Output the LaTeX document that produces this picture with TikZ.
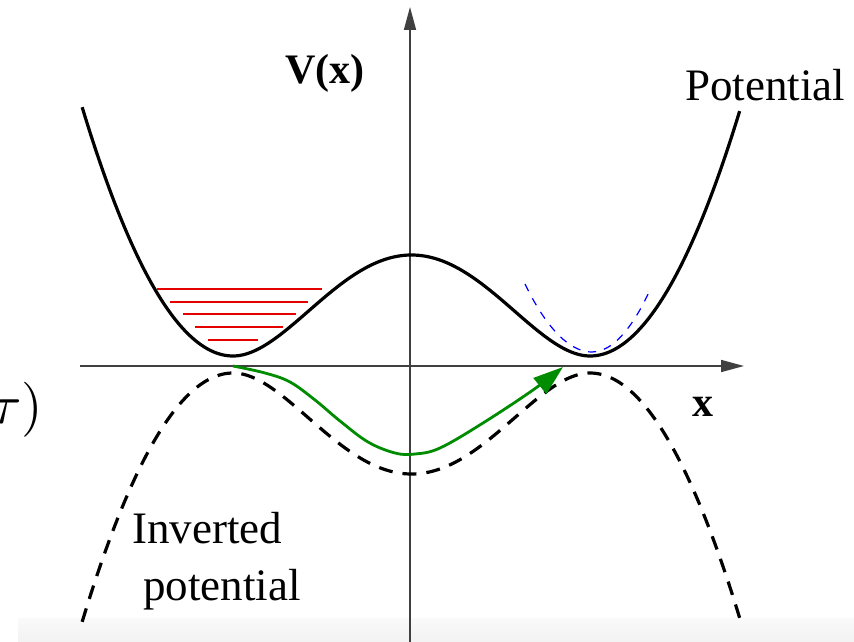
\documentclass[tikz,border=0pt]{standalone}
\usepackage[no-math]{fontspec}
\setmainfont{Liberation Serif}
\usetikzlibrary{arrows.meta}
\begin{document}
\begin{tikzpicture}[x=1pt,y=-1pt,
  axis/.style={line width=1.7pt, black!75, -{Triangle[length=23pt,width=12pt]}},
  pot/.style={line width=3.2pt, black},
  invpot/.style={line width=3.2pt, black, dash pattern=on 14pt off 10pt},
  level/.style={line width=2.8pt, red!90!black},
  harm/.style={line width=1.2pt, blue, dash pattern=on 8pt off 8pt},
  tunnel/.style={line width=2.8pt, green!55!black, -{Triangle[length=30pt,width=20pt]}},
  lbl/.style={font=\fontsize{45}{54}\selectfont, inner sep=0pt},
  blbl/.style={font=\bfseries\fontsize{42}{50}\selectfont, inner sep=0pt},
  declare function={g(\u)=(abs(\u)<1) ? ((\u*\u-1)*(\u*\u-1)) : (3.45*(abs(\u)-1)*(abs(\u)-1));}
]
\useasboundingbox (0,0) rectangle (854,642);
\fill[white] (0,0) rectangle (854,642);
\shade[top color=black!2, bottom color=black!5] (18,618) rectangle (854,642);

% axes
\coordinate (xs) at (80,366);
\coordinate (xe) at (744,366);
\coordinate (ys) at (410,642);
\coordinate (ye) at (410,7);
\draw[axis] (xs) -- (xe);
\draw[axis] (ys) -- (ye);

% potential
\draw[pot] plot[domain=-1.845:1.84, samples=240, variable=\u] ({411.5+178.5*\u},{356-101*g(\u)});
% inverted potential
\draw[invpot] plot[domain=-1.845:1.84, samples=240, variable=\u] ({411.5+178.5*\u},{373+101*g(\u)});

% energy levels
\draw[level] (157,289) -- (322,289);
\draw[level] (170,302) -- (308,302);
\draw[level] (183,314) -- (296,314);
\draw[level] (195,327) -- (283,327);
\draw[level] (208,340) -- (258,340);

% harmonic approximation
\draw[harm] (525,284) parabola bend (592,352) (650,290);

% tunnelling path
\draw[tunnel] plot[smooth, tension=0.6] coordinates {(233,366) (265,373) (290,382) (315,400) (340,421) (368,442) (395,453) (415,454) (440,448) (483,423) (533,390) (563,367)};

% labels
\node[blbl, anchor=base west] (vx) at (285,83) {V(x)};
\node[blbl, anchor=base west] (xl) at (692,416) {x};
\node[lbl, anchor=base west] (potl) at (685,100) {Potential};
\node[lbl, anchor=base west] (inv1) at (132,543) {Inverted};
\node[lbl, anchor=base west] (inv2) at (143,600) {potential};
\node[scale=5.5, inner sep=0pt, anchor=base east] (tau) at (44,423) {$\tau)$};
\end{tikzpicture}
\end{document}
